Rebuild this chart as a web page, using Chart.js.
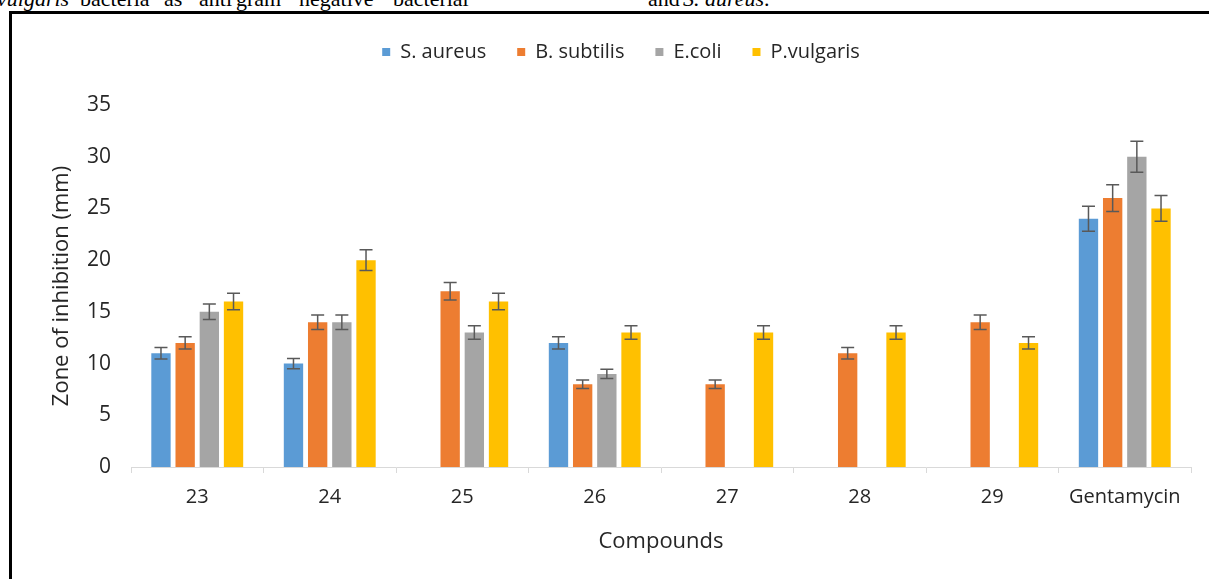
<!DOCTYPE html>
<html>
<head>
<meta charset="utf-8">
<script src="https://cdn.jsdelivr.net/npm/chart.js@4/dist/chart.umd.min.js"></script>
<style>
  html, body { margin: 0; padding: 0; background: #fff; overflow: hidden; }
  body { width: 1209px; height: 579px; position: relative; }
  .caption span {
    position: absolute; top: -12px;
    font-family: "Liberation Serif", "Times New Roman", serif;
    font-size: 22px; line-height: 22px; color: #000; white-space: nowrap;
  }
  .caption .it { font-style: italic; }
  #frame {
    position: absolute; left: 9px; top: 11px; width: 1220px; height: 600px;
    border-left: 3px solid #000; border-top: 3px solid #000;
  }
  #wrap { position: absolute; left: 12px; top: 14px; width: 1197px; height: 565px; }
</style>
</head>
<body>
<div class="caption">
  <span class="it" style="left:-3px">vulgaris</span>
  <span style="left:80px">bacteria</span>
  <span style="left:164px">as</span>
  <span style="left:199px">anti</span>
  <span style="left:236px">gram</span>
  <span style="left:299px">negative</span>
  <span style="left:393px">bacterial</span>
  <span style="left:648px">and</span>
  <span style="left:683px"><i>S. aureus</i>.</span>
</div>
<div id="frame"></div>
<div id="wrap"><canvas id="chart"></canvas></div>
<script>
// Compounds tested
const compounds = ['23', '24', '25', '26', '27', '28', '29', 'Gentamycin'];

// Zone of inhibition (mm) per organism; null = no activity
const sAureus    = [11, 10, null, 12, null, null, null, 24];
const bSubtilis  = [12, 14, 17, 8, 8, 11, 14, 26];
const eColi      = [15, 14, 13, 9, null, null, null, 30];
const pVulgaris  = [16, 20, 16, 13, 13, 13, 12, 25];

// Error bar half-lengths (mm)
const sAureusErr   = [0.55, 0.5, null, 0.6, null, null, null, 1.2];
const bSubtilisErr = [0.6, 0.7, 0.85, 0.4, 0.4, 0.55, 0.7, 1.3];
const eColiErr     = [0.75, 0.7, 0.65, 0.45, null, null, null, 1.5];
const pVulgarisErr = [0.8, 1.0, 0.8, 0.65, 0.65, 0.65, 0.6, 1.25];

const yTicks = [0, 5, 10, 15, 20, 25, 30, 35];

const textFont = '"Open Sans", "DejaVu Sans", sans-serif';
const textColor = '#262626';

// Draws the error bars on top of each bar using the value scale
const errorBars = {
  id: 'errorBars',
  afterDatasetsDraw(chart) {
    const ctx = chart.ctx;
    const y = chart.scales.y;
    ctx.save();
    ctx.strokeStyle = '#595959';
    ctx.lineWidth = 1.5;
    chart.data.datasets.forEach((ds, di) => {
      const meta = chart.getDatasetMeta(di);
      meta.data.forEach((bar, i) => {
        const v = ds.data[i], e = ds.errors[i];
        if (v == null || e == null) return;
        const x = bar.x;
        const yTop = y.getPixelForValue(v + e);
        const yBot = y.getPixelForValue(v - e);
        const cap = 6.5;
        ctx.beginPath();
        ctx.moveTo(x, yTop); ctx.lineTo(x, yBot);
        ctx.moveTo(x - cap, yTop); ctx.lineTo(x + cap, yTop);
        ctx.moveTo(x - cap, yBot); ctx.lineTo(x + cap, yBot);
        ctx.stroke();
      });
    });
    ctx.restore();
  }
};

// Leaves extra room between the legend row and the plot area
const legendGap = {
  id: 'legendGap',
  beforeLayout(chart) {
    const lg = chart.legend;
    if (!lg || lg._gapPatched) return;
    const fit = lg.fit;
    lg.fit = function () { fit.call(this); this.height += 33; };
    lg._gapPatched = true;
  }
};

const mk = (label, data, errors, color) => ({
  label, data, errors,
  backgroundColor: color,
  borderColor: '#ffffff',
  borderWidth: 0,
  categoryPercentage: 0.73,
  barPercentage: 0.8
});

new Chart(document.getElementById('chart'), {
  type: 'bar',
  data: {
    labels: compounds,
    datasets: [
      mk('S. aureus', sAureus, sAureusErr, '#5b9bd5'),
      mk('B. subtilis', bSubtilis, bSubtilisErr, '#ed7d31'),
      mk('E.coli', eColi, eColiErr, '#a5a5a5'),
      mk('P.vulgaris', pVulgaris, pVulgarisErr, '#ffc000')
    ]
  },
  options: {
    responsive: true,
    maintainAspectRatio: false,
    animation: false,
    layout: { padding: { left: 39, right: 18, top: -3, bottom: 0 } },
    plugins: {
      tooltip: { enabled: false },
      legend: {
        position: 'top',
        labels: {
          boxWidth: 8, boxHeight: 8, padding: 31,
          color: textColor,
          font: { family: textFont, size: 20 }
        }
      }
    },
    scales: {
      x: {
        grid: { display: true, drawOnChartArea: false, drawTicks: true, tickLength: 6, color: '#d9d9d9', offset: true },
        border: { display: true, color: '#d9d9d9', width: 1 },
        ticks: { color: textColor, padding: 12, font: { family: textFont, size: 20 } },
        title: {
          display: true, text: 'Compounds', color: textColor,
          font: { family: textFont, size: 22 }, padding: { top: 0, bottom: 24 }
        },
        afterFit(scale) { scale.height = 112; }
      },
      y: {
        min: 0, max: 35,
        grid: { display: false, drawTicks: false },
        border: { display: false },
        afterBuildTicks(scale) { scale.ticks = yTicks.map(v => ({ value: v })); },
        ticks: { color: textColor, padding: 20, font: { family: textFont, size: 21 } },
        title: {
          display: true, text: 'Zone of inhibition (mm)', color: textColor,
          font: { family: textFont, size: 22, lineHeight: 1 }, padding: { top: 0, bottom: 0 }
        },
        afterFit(scale) { scale.width = 80; }
      }
    }
  },
  plugins: [errorBars, legendGap]
});
</script>
</body>
</html>
